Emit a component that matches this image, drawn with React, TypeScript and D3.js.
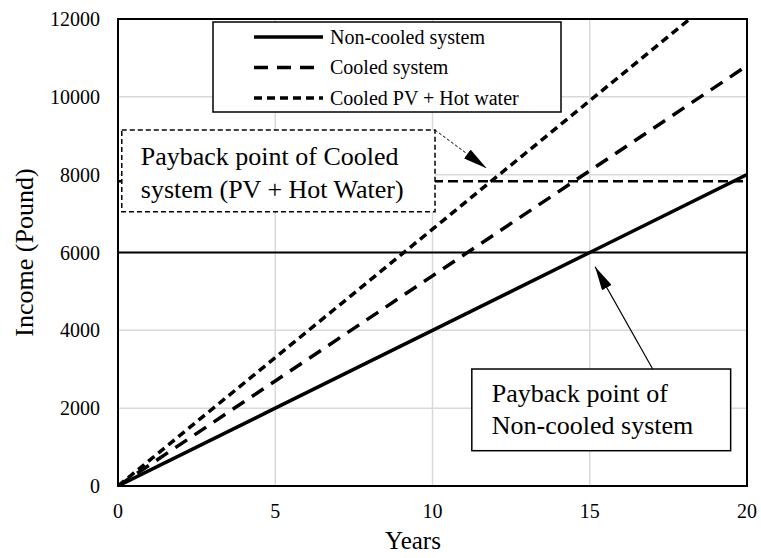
import { useEffect, useRef } from "react";
import * as d3 from "d3";

const years = [0, 5, 10, 15, 20];
const nonCooled = [0, 2000, 4000, 6000, 8000];
const cooled = [0, 2700, 5400, 8100, 10800];
const cooledHotWater = [0, 3300, 6600, 9900, 13200];

const xTicks = [0, 5, 10, 15, 20];
const yTicks = [0, 2000, 4000, 6000, 8000, 10000, 12000];

const paybackNonCooled = 6000;
const paybackCooled = 7830;

const seriesNames = ["Non-cooled system", "Cooled system", "Cooled PV + Hot water"];
const noteCooled = ["Payback point of Cooled", "system (PV + Hot Water)"];
const noteNonCooled = ["Payback point of", "Non-cooled system"];

const FONT = "'Liberation Serif', 'Times New Roman', serif";

export default function App() {
  const svgRef = useRef<SVGSVGElement>(null);

  useEffect(() => {
    const svg = d3.select(svgRef.current);
    svg.selectAll("*").remove();

    const width = 761, height = 558;
    const margin = { top: 19, right: 14, bottom: 72, left: 118 };
    const innerW = width - margin.left - margin.right;
    const innerH = height - margin.top - margin.bottom;

    const g = svg.append("g").attr("transform", `translate(${margin.left},${margin.top})`);
    const x = d3.scaleLinear().domain([0, 20]).range([0, innerW]);
    const y = d3.scaleLinear().domain([0, 12000]).range([innerH, 0]);

    const defs = svg.append("defs");
    defs.append("clipPath").attr("id", "plot-clip")
      .append("rect").attr("width", innerW).attr("height", innerH);
    defs.append("marker").attr("id", "arrow")
      .attr("viewBox", "0 0 24 11").attr("refX", 24).attr("refY", 5.5)
      .attr("markerWidth", 24).attr("markerHeight", 11)
      .attr("markerUnits", "userSpaceOnUse").attr("orient", "auto")
      .append("path").attr("d", "M0,0 L24,5.5 L0,11 Z").attr("fill", "#000");

    // grid
    g.append("g").selectAll("line").data(xTicks.slice(1, -1)).enter().append("line")
      .attr("x1", d => x(d)).attr("x2", d => x(d)).attr("y1", 0).attr("y2", innerH)
      .attr("stroke", "#d9d9d9").attr("stroke-width", 1.5);
    g.append("g").selectAll("line").data(yTicks.slice(1, -1)).enter().append("line")
      .attr("x1", 0).attr("x2", innerW).attr("y1", d => y(d)).attr("y2", d => y(d))
      .attr("stroke", "#d9d9d9").attr("stroke-width", 1.5);

    // payback levels
    g.append("line").attr("x1", 0).attr("x2", innerW)
      .attr("y1", y(paybackNonCooled)).attr("y2", y(paybackNonCooled))
      .attr("stroke", "#000").attr("stroke-width", 2);
    g.append("line").attr("x1", 0).attr("x2", innerW)
      .attr("y1", y(paybackCooled)).attr("y2", y(paybackCooled))
      .attr("stroke", "#000").attr("stroke-width", 2.5).attr("stroke-dasharray", "10,5");

    const line = d3.line<number>().x((_, i) => x(years[i])).y(d => y(d));
    const series = [
      { values: nonCooled, dash: null },
      { values: cooled, dash: "14,9" },
      { values: cooledHotWater, dash: "8,5" },
    ];
    const lines = g.append("g").attr("clip-path", "url(#plot-clip)");
    series.forEach(s => {
      lines.append("path").datum(s.values)
        .attr("fill", "none").attr("stroke", "#000").attr("stroke-width", 3.5)
        .attr("stroke-dasharray", s.dash).attr("d", line);
    });

    // frame
    g.append("rect").attr("width", innerW).attr("height", innerH)
      .attr("fill", "none").attr("stroke", "#000").attr("stroke-width", 2);

    // tick labels
    g.append("g").selectAll("text").data(yTicks).enter().append("text")
      .attr("x", -18).attr("y", d => y(d)).attr("dy", "0.35em")
      .attr("text-anchor", "end").style("font-family", FONT).style("font-size", "20px")
      .text(d => d);
    g.append("g").selectAll("text").data(xTicks).enter().append("text")
      .attr("x", d => x(d)).attr("y", innerH + 32)
      .attr("text-anchor", "middle").style("font-family", FONT).style("font-size", "20px")
      .text(d => d);

    // axis titles
    svg.append("text").attr("x", 413).attr("y", 549)
      .attr("text-anchor", "middle").style("font-family", FONT).style("font-size", "25px")
      .text("Years");
    svg.append("text").attr("transform", `translate(33,${margin.top + y(6000)}) rotate(-90)`)
      .attr("text-anchor", "middle").style("font-family", FONT).style("font-size", "26px")
      .text("Income (Pound)");

    // legend
    const lg = g.append("g").attr("transform", "translate(95,3)");
    lg.append("rect").attr("width", 348).attr("height", 90)
      .attr("fill", "#fff").attr("stroke", "#000").attr("stroke-width", 1.5);
    series.forEach((s, i) => {
      const ly = 15 + i * 30.5;
      lg.append("line").attr("x1", 41).attr("x2", 110).attr("y1", ly).attr("y2", ly)
        .attr("stroke", "#000").attr("stroke-width", 3.5).attr("stroke-dasharray", s.dash);
      lg.append("text").attr("x", 117).attr("y", ly + 6.5)
        .style("font-family", FONT).style("font-size", "20px").text(seriesNames[i]);
    });

    // annotation: cooled payback
    const b1 = { x0: 0.12, x1: 10.08, y0: 9148, y1: 7048 };
    g.append("line")
      .attr("x1", x(b1.x1)).attr("y1", y(b1.y0)).attr("x2", x(11.72)).attr("y2", y(8163))
      .attr("stroke", "#000").attr("stroke-width", 1).attr("stroke-dasharray", "3,2")
      .attr("marker-end", "url(#arrow)");
    g.append("rect").attr("x", x(b1.x0)).attr("y", y(b1.y0))
      .attr("width", x(b1.x1) - x(b1.x0)).attr("height", y(b1.y1) - y(b1.y0))
      .attr("fill", "#fff").attr("stroke", "#000").attr("stroke-width", 1.5)
      .attr("stroke-dasharray", "5,3");
    noteCooled.forEach((t, i) => {
      g.append("text").attr("x", x(b1.x0) + 19).attr("y", y(b1.y0) + 35 + i * 33)
        .style("font-family", FONT).style("font-size", "26px").text(t);
    });

    // annotation: non-cooled payback
    const b2 = { x0: 11.25, x1: 19.48, y0: 3006, y1: 907 };
    g.append("line")
      .attr("x1", x(17.0)).attr("y1", y(b2.y0)).attr("x2", x(15.17)).attr("y2", y(5635))
      .attr("stroke", "#000").attr("stroke-width", 1.2)
      .attr("marker-end", "url(#arrow)");
    g.append("rect").attr("x", x(b2.x0)).attr("y", y(b2.y0))
      .attr("width", x(b2.x1) - x(b2.x0)).attr("height", y(b2.y1) - y(b2.y0))
      .attr("fill", "#fff").attr("stroke", "#000").attr("stroke-width", 1.5);
    noteNonCooled.forEach((t, i) => {
      g.append("text").attr("x", x(b2.x0) + 20).attr("y", y(b2.y0) + 33 + i * 32)
        .style("font-family", FONT).style("font-size", "26px").text(t);
    });
  }, []);

  return (
    <svg ref={svgRef} width={761} height={558}
      style={{ position: "absolute", left: 0, top: 0, background: "#fff" }} />
  );
}
